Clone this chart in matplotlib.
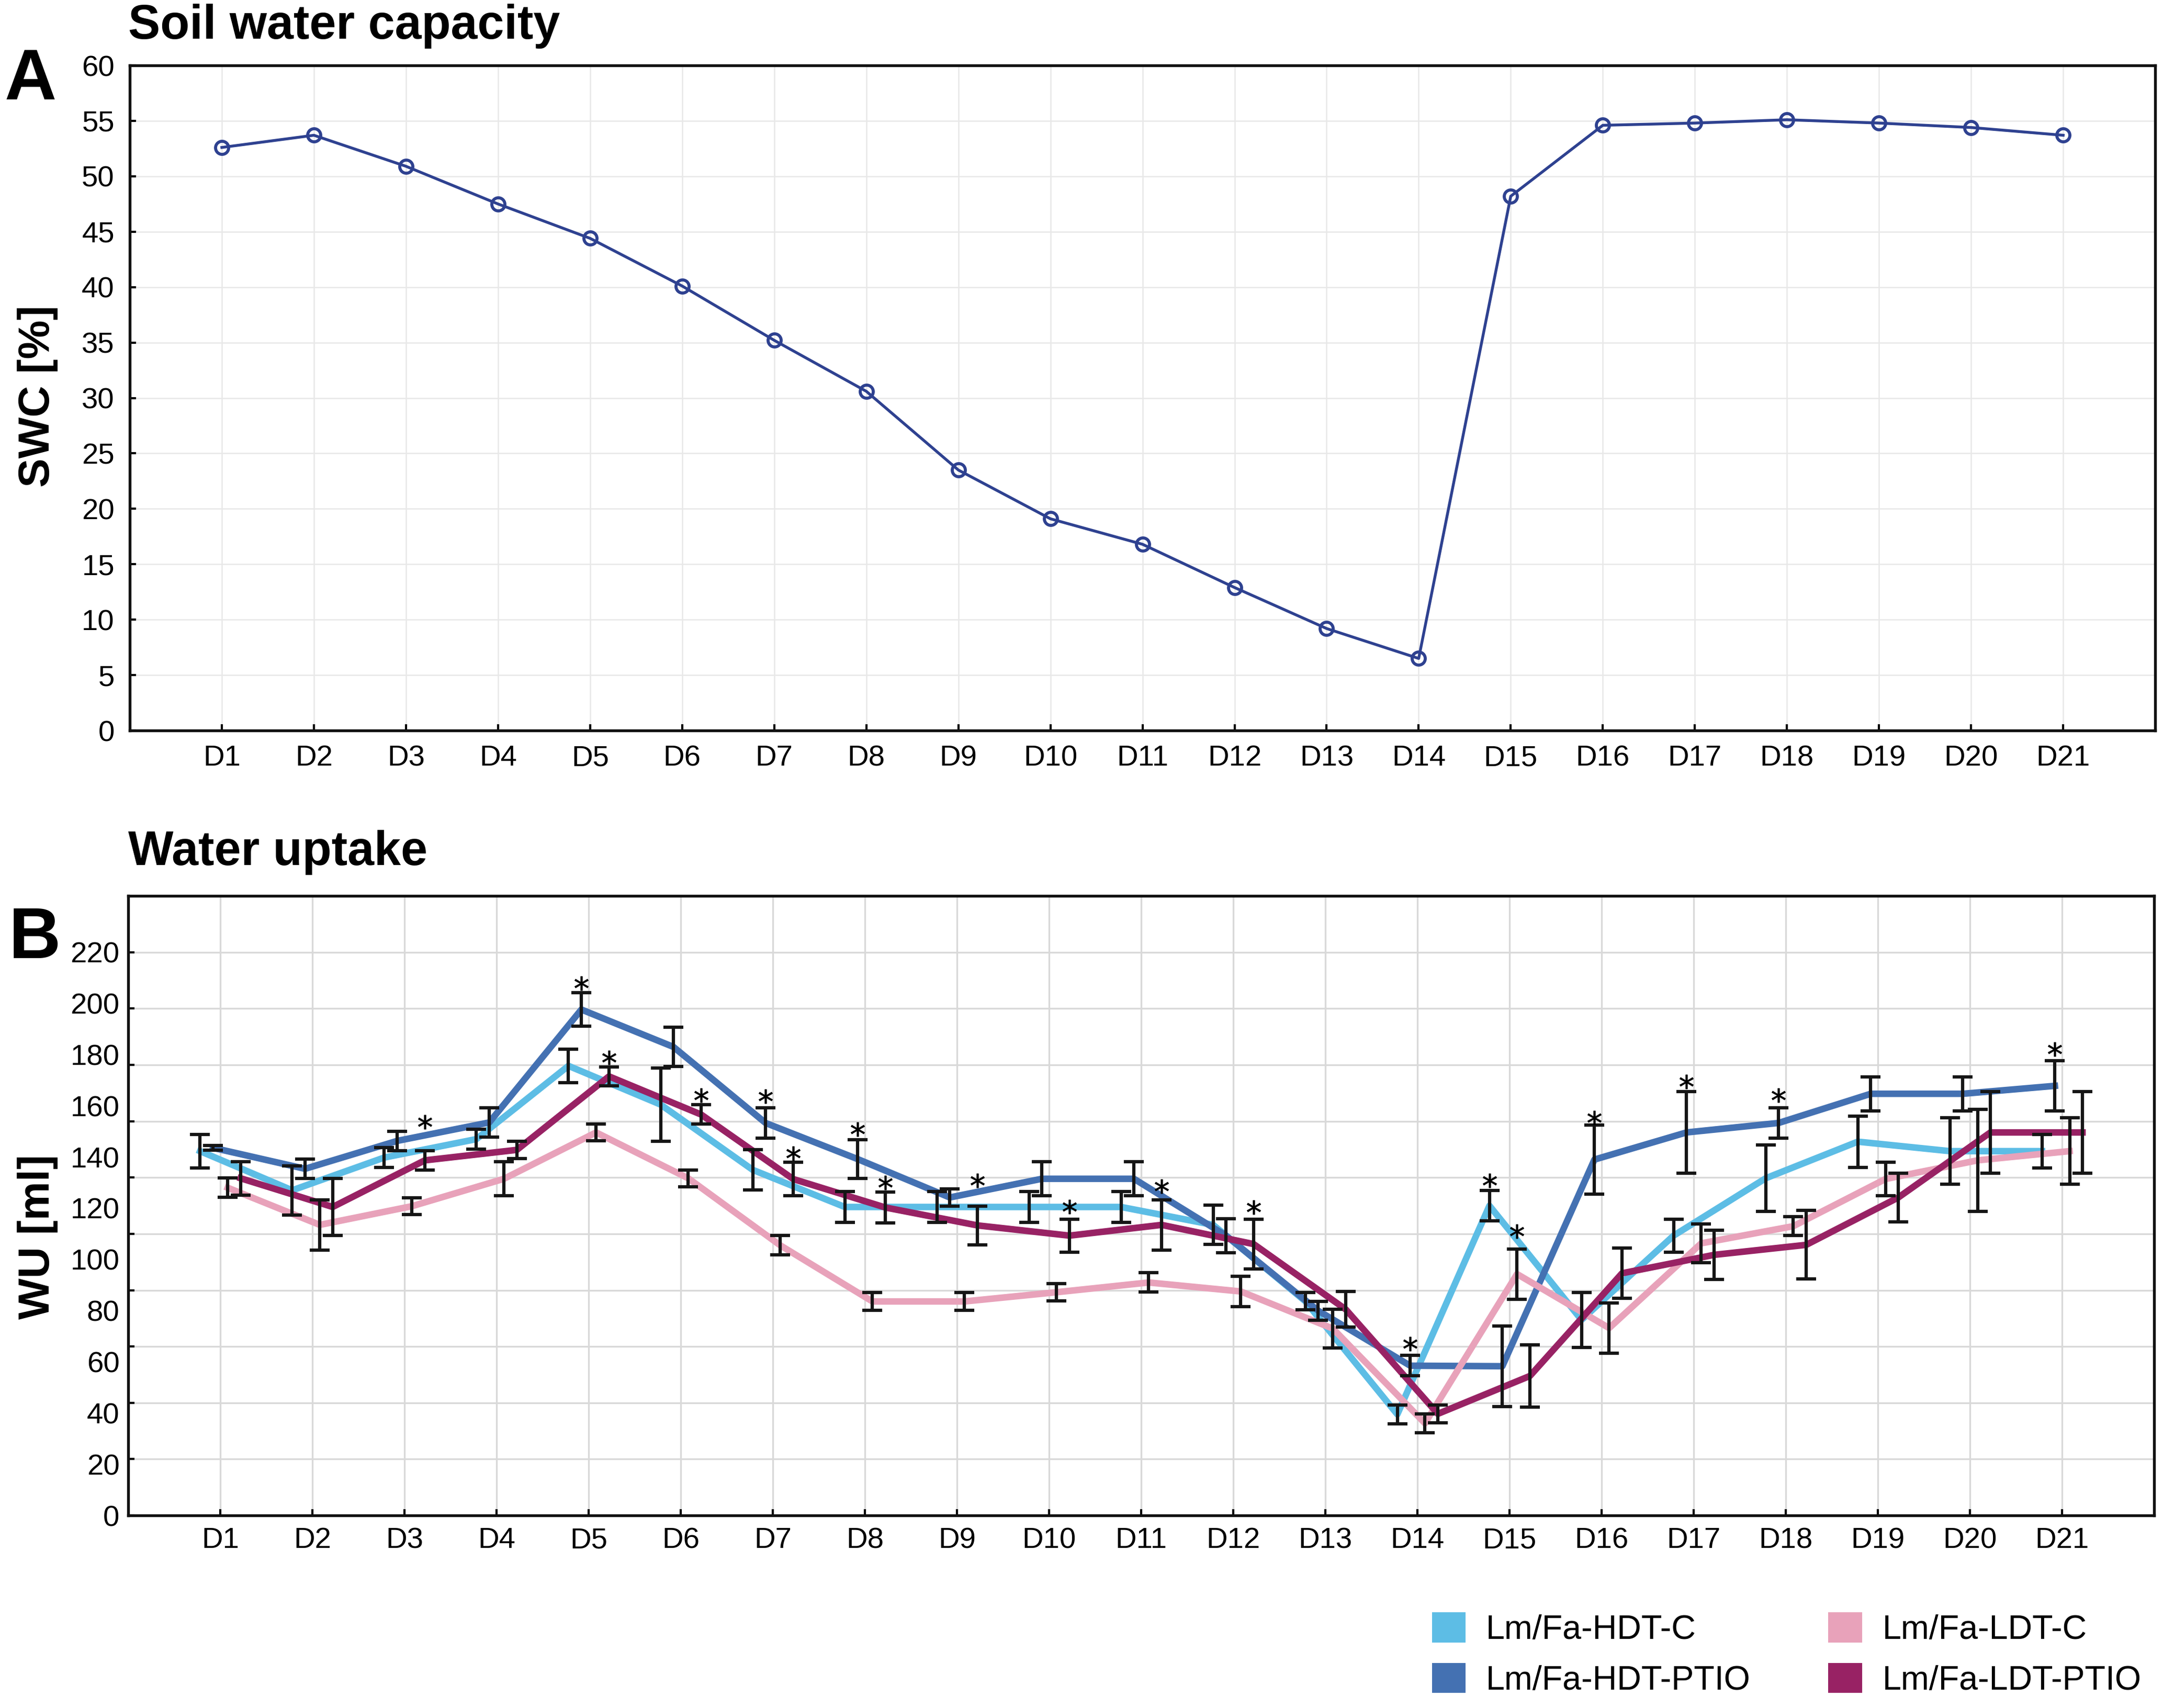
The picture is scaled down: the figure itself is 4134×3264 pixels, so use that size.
import numpy as np
import matplotlib.pyplot as plt
from matplotlib.patches import Patch

plt.rcParams['font.family'] = ['Liberation Sans', 'DejaVu Sans']

days = [f"D{i}" for i in range(1, 22)]

# panel A - soil water capacity [%]
swc = [52.6, 53.7, 50.9, 47.5, 44.4, 40.1, 35.2, 30.6, 23.5, 19.1, 16.8,
       12.9, 9.2, 6.5, 48.2, 54.6, 54.8, 55.1, 54.8, 54.4, 53.7]
swc_ticks = list(range(0, 61, 5))

# panel B - water uptake [ml], means and error bars
series = ['Lm/Fa-HDT-C', 'Lm/Fa-HDT-PTIO', 'Lm/Fa-LDT-C', 'Lm/Fa-LDT-PTIO']
hdt_c = [142.3, 127, 139.8, 147, 175.6, 160.5, 135, 120.5, 120.5, 120.5, 120.5,
         113.5, 83.7, 39.5, 121, 76.4, 109.3, 131.7, 146, 142.3, 142.3]
hdt_c_err = [6.5, 9.6, 3.8, 3.9, 6.5, 14.3, 7.8, 6, 6, 6, 6,
             7.7, 3.3, 3.7, 6, 10.7, 6.5, 13, 10, 13, 6.5]
hdt_ptio = [143.6, 135.4, 146.3, 153.5, 197.6, 183, 153.3, 139.2, 124.2, 131.5, 131.5,
            109.3, 80, 58.5, 58.3, 139, 149.6, 153.3, 164.7, 164.7, 167.8]
hdt_ptio_err = [1, 3.8, 3.8, 5.8, 6.5, 7.6, 6, 7.5, 3.4, 6.7, 6.7,
                6.6, 3.7, 4, 15.8, 13.4, 16, 6, 6.6, 6.6, 9.8]
ldt_c = [128, 113.5, 120.8, 131.5, 149.6, 131.7, 105.5, 83.6, 83.6, 87.2, 91,
         87.5, 73, 36, 94.3, 73.2, 106.3, 113, 131.4, 138.7, 142.3]
ldt_c_err = [3.8, 9.8, 3.3, 6.7, 3.3, 3.3, 3.8, 3.4, 3.4, 3.4, 3.8,
             6, 7.6, 3.7, 9.8, 9.8, 7.6, 3.7, 6.5, 20, 13]
ldt_ptio = [131.7, 120.5, 138.7, 142.8, 171.5, 156.6, 131.4, 120.3, 113.3, 109.3, 113.5,
            106, 80.5, 39.7, 54.5, 94.6, 101.8, 105.7, 124.2, 149.6, 149.6]
ldt_ptio_err = [6.5, 11.2, 3.8, 3.3, 3.7, 3.8, 6.5, 6, 7.6, 6.5, 9.8,
                9.8, 7, 3.5, 12.2, 9.8, 9.6, 13.4, 9.5, 16, 16]
wu_labels = list(range(0, 221, 20))
wu_grid = list(range(0, 221, 22))

# significance stars: series index, day number, height
star_series = [3, 1, 3, 3, 1, 3, 1, 3, 3, 3, 3, 3, 1, 0, 2, 1, 1, 1, 1]
star_days = [3, 5, 5, 6, 7, 7, 8, 8, 9, 10, 11, 12, 14, 15, 15, 16, 17, 18, 21]
star_y = [153.7, 207.8, 178.9, 164.2, 163.7, 141.5, 150.9, 130, 130.9, 120.7, 128.5,
          120.3, 67, 130.9, 110.9, 155.3, 169.4, 164.2, 182.1]

colors = ['#5DBDE5', '#4471B2', '#E8A2BA', '#982264']
offsets = [-0.22, -0.08, 0.08, 0.22]
means = [hdt_c, hdt_ptio, ldt_c, ldt_ptio]
errs = [hdt_c_err, hdt_ptio_err, ldt_c_err, ldt_ptio_err]

fig = plt.figure(figsize=(13.78, 10.88), dpi=300)
ax1 = fig.add_axes([0.060, 0.5723, 0.9364, 0.3894])
ax2 = fig.add_axes([0.0593, 0.1127, 0.9367, 0.3628])

x = np.arange(1, 22)

# --- panel A
ax1.plot(x, swc, color='#2E4190', lw=1.3, marker='o', ms=6, mfc='none', mew=1.4)
ax1.set_xlim(0, 22)
ax1.set_ylim(0, 60)
ax1.set_xticks(x, days)
ax1.set_yticks(swc_ticks)
ax1.grid(color='#E8E8E8', lw=0.6)
ax1.set_axisbelow(True)
ax1.tick_params(direction='in', length=2.8, width=1, labelsize=13.5)
ax1.tick_params(axis='y', pad=7)
ax1.tick_params(axis='x', pad=6.5)

# --- panel B
for m, e, c, off in zip(means, errs, colors, offsets):
    ax2.plot(x + off, m, color=c, lw=3.0, zorder=2)
    ax2.errorbar(x + off, m, yerr=e, fmt='none', ecolor='#151515', elinewidth=1.5,
                 capsize=4.5, capthick=1.5, zorder=3)

sx = [d + offsets[s] for s, d in zip(star_series, star_days)]
ax2.plot(sx, star_y, ls='none', marker='$*$', ms=6.5, color='black', mew=0.2, zorder=4)

ax2.yaxis.remove_overlapping_locs = False
ax2.set_xlim(0, 22)
ax2.set_ylim(0, 242)
ax2.set_xticks(x, days)
ax2.set_yticks(wu_grid)
ax2.set_yticklabels([])
ax2.set_yticks(wu_labels, minor=True)
ax2.set_yticklabels([str(v) for v in wu_labels], minor=True)
ax2.tick_params(axis='y', which='minor', length=0, pad=4, labelsize=13.5)
ax2.tick_params(axis='y', which='major', direction='in', length=2.8, width=1)
ax2.tick_params(axis='x', direction='in', length=2.8, width=1, pad=5.3, labelsize=13.5)
ax2.grid(which='major', color='#D9D9D9', lw=0.8)
ax2.set_axisbelow(True)

for ax in (ax1, ax2):
    for sp in ax.spines.values():
        sp.set_linewidth(1.3)
        sp.set_color('#111111')

# titles and labels
fig.text(0.0593, 0.9773, 'Soil water capacity', fontsize=22, fontweight='bold', va='baseline')
fig.text(0.0593, 0.4936, 'Water uptake', fontsize=22, fontweight='bold', va='baseline')
fig.text(0.002, 0.9418, 'A', fontsize=33, fontweight='bold', va='baseline')
fig.text(0.004, 0.439, 'B', fontsize=33, fontweight='bold', va='baseline')
fig.text(0.0175, 0.768, 'SWC [%]', fontsize=20, fontweight='bold', rotation=90,
         ha='center', va='center')
fig.text(0.0175, 0.276, 'WU [ml]', fontsize=20, fontweight='bold', rotation=90,
         ha='center', va='center')

handles = [Patch(facecolor=c, edgecolor='none') for c in colors]
fig.legend(handles, series, ncol=2, loc='upper left', bbox_to_anchor=(0.662, 0.056),
           frameon=False, fontsize=15.5, handlelength=1.0, handleheight=1.0,
           handletextpad=0.6, columnspacing=2.3, labelspacing=0.5,
           borderpad=0, borderaxespad=0)

fig.savefig('out.png', dpi=300)
